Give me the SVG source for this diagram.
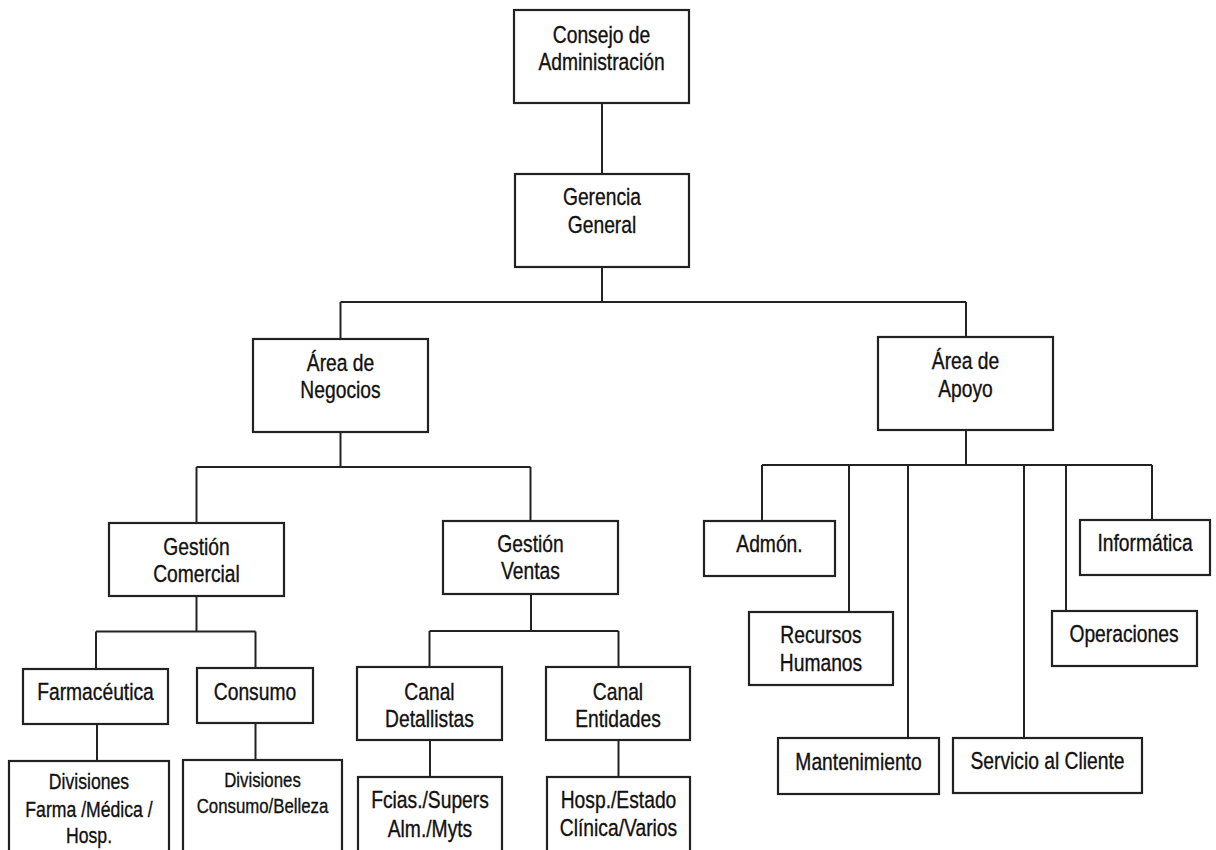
<svg xmlns="http://www.w3.org/2000/svg" width="1216" height="850" viewBox="0 0 1216 850">
<style>
.n rect{fill:#fff;stroke:#222;stroke-width:2.2}
.t{font-family:"Liberation Sans",Arial,sans-serif;font-size:23.5px;text-anchor:middle;fill:#111;stroke:#111;stroke-width:0.35}
.s{font-size:21.5px}
.xs{font-size:20.5px}
#connectors line{stroke:#222;stroke-width:2}
</style>
<rect width="1216" height="850" fill="#fff"/>
<g id="connectors">
<line x1="602" y1="103" x2="602" y2="174"/>
<line x1="602" y1="267" x2="602" y2="302"/>
<line x1="340.5" y1="302" x2="966" y2="302"/>
<line x1="340.5" y1="302" x2="340.5" y2="339"/>
<line x1="966" y1="302" x2="966" y2="337"/>
<line x1="340.5" y1="432" x2="340.5" y2="467"/>
<line x1="196.5" y1="467" x2="530.5" y2="467"/>
<line x1="196.5" y1="467" x2="196.5" y2="523"/>
<line x1="530.5" y1="467" x2="530.5" y2="521"/>
<line x1="966" y1="430" x2="966" y2="465"/>
<line x1="762" y1="465" x2="1152" y2="465"/>
<line x1="762" y1="465" x2="762" y2="521"/>
<line x1="849" y1="465" x2="849" y2="612"/>
<line x1="908" y1="465" x2="908" y2="738"/>
<line x1="1024" y1="465" x2="1024" y2="738"/>
<line x1="1066" y1="465" x2="1066" y2="611"/>
<line x1="1152" y1="465" x2="1152" y2="520"/>
<line x1="196.5" y1="596" x2="196.5" y2="631.5"/>
<line x1="96" y1="631.5" x2="255.5" y2="631.5"/>
<line x1="96" y1="631.5" x2="96" y2="669"/>
<line x1="255.5" y1="631.5" x2="255.5" y2="668"/>
<line x1="531" y1="594" x2="531" y2="631"/>
<line x1="429.5" y1="631" x2="618.5" y2="631"/>
<line x1="429.5" y1="631" x2="429.5" y2="667"/>
<line x1="618.5" y1="631" x2="618.5" y2="667"/>
<line x1="97" y1="724" x2="97" y2="761"/>
<line x1="255.5" y1="723" x2="255.5" y2="760"/>
<line x1="430" y1="740" x2="430" y2="777"/>
<line x1="618.5" y1="740" x2="618.5" y2="777"/>
</g>
<g id="consejo" class="n"><rect x="514" y="10" width="175" height="93"/>
<text class="t" transform="translate(601.5 0) scale(0.82 1)" x="0" y="43">Consejo de</text>
<text class="t" transform="translate(601.5 0) scale(0.82 1)" x="0" y="70">Administración</text></g>
<g id="gerencia" class="n"><rect x="515" y="174" width="174" height="93"/>
<text class="t" transform="translate(602 0) scale(0.82 1)" x="0" y="205">Gerencia</text>
<text class="t" transform="translate(602 0) scale(0.82 1)" x="0" y="233">General</text></g>
<g id="area-negocios" class="n"><rect x="253" y="339" width="175" height="93"/>
<text class="t" transform="translate(340.5 0) scale(0.82 1)" x="0" y="371">Área de</text>
<text class="t" transform="translate(340.5 0) scale(0.82 1)" x="0" y="398">Negocios</text></g>
<g id="area-apoyo" class="n"><rect x="878" y="337" width="175" height="93"/>
<text class="t" transform="translate(965.5 0) scale(0.82 1)" x="0" y="369">Área de</text>
<text class="t" transform="translate(965.5 0) scale(0.82 1)" x="0" y="397">Apoyo</text></g>
<g id="gestion-comercial" class="n"><rect x="109" y="523" width="175" height="73"/>
<text class="t" transform="translate(196.5 0) scale(0.82 1)" x="0" y="555">Gestión</text>
<text class="t" transform="translate(196.5 0) scale(0.82 1)" x="0" y="582">Comercial</text></g>
<g id="gestion-ventas" class="n"><rect x="443" y="521" width="175" height="73"/>
<text class="t" transform="translate(530.5 0) scale(0.82 1)" x="0" y="552">Gestión</text>
<text class="t" transform="translate(530.5 0) scale(0.82 1)" x="0" y="579">Ventas</text></g>
<g id="farmaceutica" class="n"><rect x="23" y="669" width="145" height="55"/>
<text class="t" transform="translate(95.5 0) scale(0.82 1)" x="0" y="700">Farmacéutica</text></g>
<g id="consumo" class="n"><rect x="197" y="668" width="116" height="55"/>
<text class="t" transform="translate(255 0) scale(0.82 1)" x="0" y="700">Consumo</text></g>
<g id="canal-detallistas" class="n"><rect x="357" y="667" width="145" height="73"/>
<text class="t" transform="translate(429.5 0) scale(0.82 1)" x="0" y="700">Canal</text>
<text class="t" transform="translate(429.5 0) scale(0.82 1)" x="0" y="727">Detallistas</text></g>
<g id="canal-entidades" class="n"><rect x="546" y="667" width="144" height="73"/>
<text class="t" transform="translate(618 0) scale(0.82 1)" x="0" y="700">Canal</text>
<text class="t" transform="translate(618 0) scale(0.82 1)" x="0" y="727">Entidades</text></g>
<g id="div-farma" class="n"><rect x="9" y="761" width="160" height="100"/>
<text class="t s" transform="translate(89 0) scale(0.82 1)" x="0" y="789">Divisiones</text>
<text class="t s" transform="translate(89 0) scale(0.82 1)" x="0" y="817">Farma /Médica /</text>
<text class="t s" transform="translate(89 0) scale(0.82 1)" x="0" y="843">Hosp.</text></g>
<g id="div-consumo" class="n"><rect x="183" y="760" width="159" height="100"/>
<text class="t xs" transform="translate(262.5 0) scale(0.82 1)" x="0" y="787">Divisiones</text>
<text class="t xs" transform="translate(262.5 0) scale(0.82 1)" x="0" y="813">Consumo/Belleza</text></g>
<g id="fcias" class="n"><rect x="358" y="777" width="144" height="90"/>
<text class="t" transform="translate(430 0) scale(0.82 1)" x="0" y="808">Fcias./Supers</text>
<text class="t" transform="translate(430 0) scale(0.82 1)" x="0" y="837">Alm./Myts</text></g>
<g id="hosp" class="n"><rect x="547" y="777" width="143" height="90"/>
<text class="t" transform="translate(618.5 0) scale(0.82 1)" x="0" y="808">Hosp./Estado</text>
<text class="t" transform="translate(618.5 0) scale(0.82 1)" x="0" y="836">Clínica/Varios</text></g>
<g id="admon" class="n"><rect x="704" y="521" width="131" height="55"/>
<text class="t" transform="translate(769.5 0) scale(0.82 1)" x="0" y="552">Admón.</text></g>
<g id="rrhh" class="n"><rect x="749" y="612" width="144" height="73"/>
<text class="t" transform="translate(821 0) scale(0.82 1)" x="0" y="643">Recursos</text>
<text class="t" transform="translate(821 0) scale(0.82 1)" x="0" y="671">Humanos</text></g>
<g id="mantenimiento" class="n"><rect x="778" y="738" width="161" height="56"/>
<text class="t" transform="translate(858.5 0) scale(0.82 1)" x="0" y="770">Mantenimiento</text></g>
<g id="servicio" class="n"><rect x="953" y="738" width="189" height="55"/>
<text class="t" transform="translate(1047.5 0) scale(0.82 1)" x="0" y="769">Servicio al Cliente</text></g>
<g id="operaciones" class="n"><rect x="1052" y="611" width="145" height="55"/>
<text class="t" transform="translate(1124 0) scale(0.82 1)" x="0" y="642">Operaciones</text></g>
<g id="informatica" class="n"><rect x="1080" y="520" width="130" height="55"/>
<text class="t" transform="translate(1145 0) scale(0.82 1)" x="0" y="551">Informática</text></g>
</svg>
